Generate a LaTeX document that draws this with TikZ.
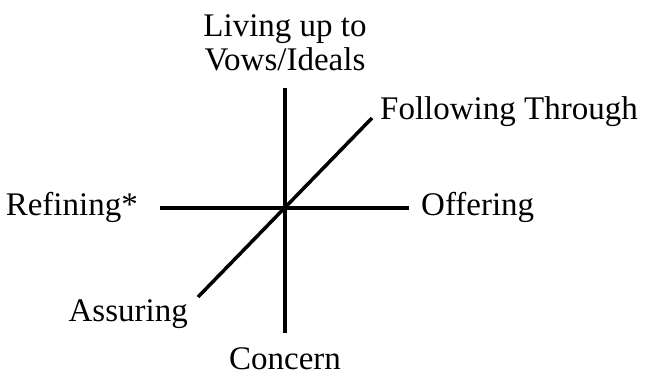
\documentclass[tikz,border=0pt]{standalone}
\usepackage{fontspec}
\setmainfont{Liberation Serif}
\usetikzlibrary{positioning}

\begin{document}
\begin{tikzpicture}[x=1pt,y=-1pt,
    axis/.style={line width=3.5pt},
    lbl/.style={inner sep=0pt,font=\fontsize{33}{34}\selectfont}]
\useasboundingbox (0,0) rectangle (658,375);
%
\coordinate (top) at (285,88);
\coordinate (bot) at (285,333);
\coordinate (lft) at (160,208);
\coordinate (rgt) at (409,208);
\coordinate (ne) at (372,118);
\coordinate (sw) at (198,297);

%
\draw[axis] (top) -- (bot);
\draw[axis] (lft) -- (rgt);
\draw[axis] (sw) -- (ne);

%
\node[lbl,anchor=base] (living) at (285,36) {Living up to};
\node[lbl,anchor=base] (vows) at (285,70) {Vows/Ideals};
\node[lbl,anchor=base west] (follow) at (380,119) {Following Through};
\node[lbl,anchor=base east] (refine) at (138,215) {Refining*};
\node[lbl,anchor=base west] (offer) at (421,215) {Offering};
\node[lbl,anchor=base east] (assure) at (188,321) {Assuring};
\node[lbl,anchor=base] (concern) at (285,369) {Concern};
\end{tikzpicture}
\end{document}
